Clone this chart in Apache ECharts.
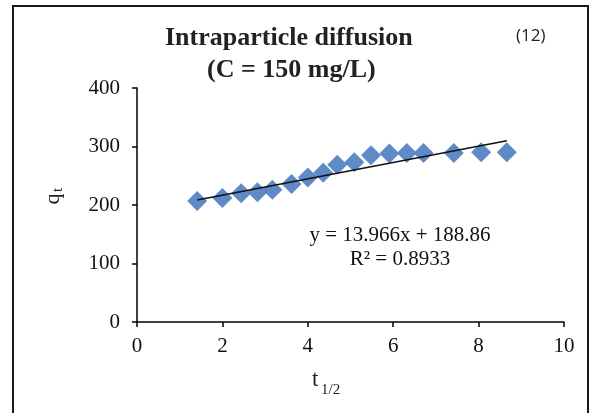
<!DOCTYPE html>
<html>
<head>
<meta charset="utf-8">
<script src="https://cdn.jsdelivr.net/npm/echarts@6/dist/echarts.min.js"></script>
<style>html,body{margin:0;padding:0;background:#fff}#c{width:594px;height:413px}</style>
</head>
<body>
<div id="c"></div>
<script>
// Data
const xValues = [1.41, 2.00, 2.44, 2.82, 3.17, 3.62, 4.00, 4.36, 4.69, 5.09, 5.48, 5.91, 6.32, 6.71, 7.42, 8.06, 8.66];
const qtValues = [207, 212, 220, 222, 226, 236, 247, 255, 269, 273, 285, 288, 289, 289, 289, 290, 290];
const slope = 13.966;
const intercept = 188.86;
const eqText = 'y = 13.966x + 188.86';
const r2Text = 'R² = 0.8933';
const xTicks = [0, 2, 4, 6, 8, 10];
const yTicks = [0, 100, 200, 300, 400];

const scatterData = xValues.map((x, i) => [x, qtValues[i]]);
const xMin = Math.min(...xValues), xMax = Math.max(...xValues);
const trendData = [[xMin, slope * xMin + intercept], [xMax, slope * xMax + intercept]];

const serif = '"Liberation Serif", "Times New Roman", serif';
const chart = echarts.init(document.getElementById('c'), null, {renderer: 'canvas'});
chart.setOption({
  backgroundColor: '#ffffff',
  animation: false,
  grid: {left: 137, right: 30, top: 88, bottom: 91},
  xAxis: {
    type: 'value', min: xTicks[0], max: xTicks[xTicks.length - 1], interval: 2,
    axisLine: {show: true, onZero: false, lineStyle: {color: '#000', width: 1.5}},
    axisTick: {show: true, inside: false, length: 5, lineStyle: {color: '#000', width: 1.5}},
    axisLabel: {color: '#111', fontFamily: serif, fontSize: 21, margin: 14},
    splitLine: {show: false}
  },
  yAxis: {
    type: 'value', min: yTicks[0], max: yTicks[yTicks.length - 1], interval: 100,
    axisLine: {show: true, lineStyle: {color: '#000', width: 1.5}},
    axisTick: {show: true, inside: false, length: 5, lineStyle: {color: '#000', width: 1.5}},
    axisLabel: {color: '#111', fontFamily: serif, fontSize: 21, margin: 17},
    splitLine: {show: false}
  },
  series: [
    {
      type: 'scatter', data: scatterData, symbol: 'diamond', symbolSize: [20, 20],
      itemStyle: {color: '#5585c2', opacity: 0.95}, z: 2
    },
    {
      type: 'line', data: trendData, symbol: 'none', z: 3,
      lineStyle: {color: '#111', width: 1.6}
    }
  ],
  graphic: [
    {type: 'rect', shape: {x: 13, y: 6, width: 575, height: 420}, style: {fill: 'none', stroke: '#1a1a1a', lineWidth: 2}, z: 10},
    {type: 'text', style: {text: 'Intraparticle diffusion', font: 'bold 26px ' + serif, fill: '#222'}, left: 165, top: 25},
    {type: 'text', style: {text: '(C = 150 mg/L)', font: 'bold 26px ' + serif, fill: '#222'}, left: 207, top: 57},
    {type: 'text', style: {text: '(12)', font: '17px "Open Sans", "Liberation Sans", sans-serif', fill: '#222'}, left: 516, top: 28},
    {type: 'text', style: {text: eqText, font: '21px ' + serif, fill: '#111', textAlign: 'center'}, x: 400, y: 225},
    {type: 'text', style: {text: r2Text, font: '21px ' + serif, fill: '#111', textAlign: 'center'}, x: 400, y: 249},
    {type: 'text', style: {text: 't', font: '23px ' + serif, fill: '#222'}, left: 312, top: 368},
    {type: 'text', style: {text: '1/2', font: '15px ' + serif, fill: '#222'}, left: 321, top: 383},
    {type: 'text', rotation: Math.PI / 2, style: {text: 'q', font: '22px ' + serif, fill: '#222', textAlign: 'center', textVerticalAlign: 'middle'}, x: 53, y: 199},
    {type: 'text', rotation: Math.PI / 2, style: {text: 't', font: '15px ' + serif, fill: '#222', textAlign: 'center', textVerticalAlign: 'middle'}, x: 58, y: 190}
  ]
});
</script>
</body>
</html>
